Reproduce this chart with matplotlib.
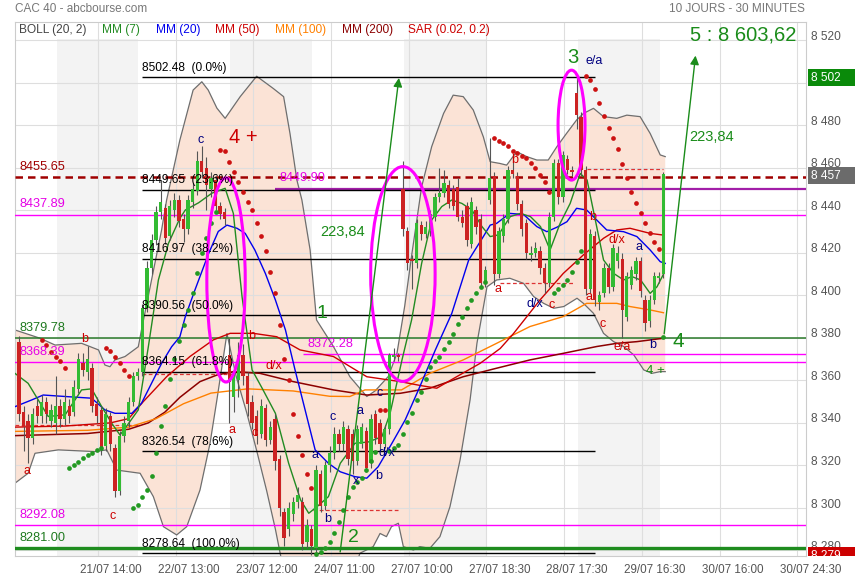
import numpy as np
import matplotlib.pyplot as plt
from matplotlib.patches import Ellipse, Rectangle
from matplotlib.transforms import blended_transform_factory

plt.rcParams['font.family'] = ['Liberation Sans', 'DejaVu Sans']

# bougies 30 min (index de barre 0..141)
opens = [8378, 8345, 8341, 8333, 8348, 8343, 8350, 8341, 8340, 8348,
         8342, 8348, 8345, 8356, 8368, 8364, 8366, 8349, 8346, 8329,
         8343, 8328, 8308, 8334, 8341, 8350, 8362, 8364, 8394, 8413,
         8426, 8439, 8441, 8428, 8440, 8445, 8436, 8431, 8444, 8449,
         8463, 8460, 8450, 8454, 8442, 8439, 8372, 8352, 8360, 8372,
         8362, 8350, 8343, 8335, 8347, 8332, 8342, 8323, 8298, 8290,
         8297, 8303, 8303, 8284, 8290, 8281, 8316, 8301, 8320, 8326,
         8335, 8330, 8337, 8335, 8322, 8330, 8336, 8321, 8344, 8340,
         8330, 8337, 8371, 8372, 8450, 8430, 8417, 8415, 8433, 8429,
         8430, 8437, 8446, 8448, 8452, 8450, 8451, 8437, 8442, 8424,
         8440, 8436, 8406, 8445, 8456, 8410, 8428, 8436, 8459, 8456,
         8443, 8434, 8419, 8420, 8421, 8413, 8406, 8437, 8462, 8446,
         8464, 8459, 8495, 8484, 8459, 8403, 8428, 8397, 8401, 8413,
         8404, 8416, 8417, 8390, 8405, 8410, 8416, 8398, 8388, 8398,
         8408, 8410]
closes = [8344, 8338, 8333, 8344, 8343, 8350, 8344, 8346, 8348, 8342,
          8350, 8343, 8357, 8370, 8365, 8370, 8348, 8343, 8328, 8344,
          8330, 8308, 8334, 8340, 8350, 8362, 8364, 8394, 8413, 8426,
          8439, 8444, 8427, 8442, 8445, 8435, 8431, 8445, 8450, 8463,
          8458, 8452, 8455, 8442, 8438, 8436, 8359, 8362, 8372, 8362,
          8349, 8340, 8334, 8348, 8332, 8338, 8322, 8300, 8286, 8300,
          8303, 8306, 8283, 8292, 8282, 8318, 8301, 8320, 8326, 8335,
          8330, 8338, 8323, 8322, 8337, 8338, 8319, 8342, 8333, 8330,
          8337, 8372, 8372, 8371, 8431, 8415, 8416, 8434, 8429, 8432,
          8438, 8446, 8448, 8453, 8443, 8442, 8437, 8434, 8426, 8444,
          8432, 8406, 8412, 8455, 8410, 8430, 8436, 8459, 8457, 8443,
          8431, 8420, 8420, 8422, 8413, 8406, 8437, 8462, 8446, 8466,
          8459, 8458, 8485, 8459, 8403, 8429, 8398, 8400, 8413, 8404,
          8422, 8420, 8393, 8409, 8412, 8416, 8402, 8387, 8398, 8409,
          8409, 8457]
highs = [8381, 8348, 8344, 8347, 8351, 8353, 8352, 8349, 8362, 8351,
         8356, 8351, 8360, 8373, 8373, 8376, 8368, 8352, 8348, 8347,
         8345, 8330, 8336, 8343, 8352, 8364, 8366, 8396, 8416, 8429,
         8442, 8454, 8443, 8445, 8448, 8447, 8438, 8447, 8453, 8468,
         8470, 8465, 8458, 8456, 8444, 8441, 8380, 8365, 8378, 8377,
         8364, 8353, 8346, 8351, 8349, 8341, 8344, 8325, 8300, 8303,
         8305, 8310, 8305, 8295, 8292, 8320, 8318, 8322, 8329, 8338,
         8337, 8341, 8339, 8337, 8339, 8340, 8338, 8344, 8346, 8342,
         8339, 8373, 8375, 8373, 8463, 8432, 8419, 8436, 8435, 8435,
         8440, 8448, 8460, 8459, 8454, 8452, 8455, 8440, 8444, 8446,
         8442, 8438, 8414, 8474, 8458, 8432, 8438, 8461, 8465, 8458,
         8445, 8436, 8423, 8425, 8423, 8415, 8439, 8464, 8464, 8468,
         8466, 8461, 8502, 8486, 8461, 8431, 8430, 8402, 8415, 8415,
         8424, 8423, 8420, 8411, 8414, 8418, 8418, 8400, 8400, 8411,
         8411, 8458]
lows = [8341, 8327, 8321, 8330, 8340, 8340, 8340, 8338, 8335, 8338,
        8339, 8340, 8343, 8354, 8362, 8360, 8345, 8340, 8325, 8327,
        8327, 8305, 8306, 8331, 8338, 8348, 8360, 8362, 8392, 8410,
        8424, 8436, 8424, 8426, 8437, 8432, 8425, 8429, 8441, 8447,
        8455, 8440, 8446, 8440, 8436, 8433, 8340, 8345, 8352, 8358,
        8343, 8337, 8330, 8333, 8329, 8330, 8318, 8296, 8282, 8287,
        8294, 8300, 8280, 8281, 8278, 8278, 8298, 8299, 8317, 8323,
        8327, 8327, 8320, 8316, 8320, 8328, 8317, 8319, 8330, 8327,
        8328, 8335, 8369, 8369, 8428, 8412, 8403, 8413, 8426, 8427,
        8428, 8435, 8444, 8446, 8441, 8440, 8435, 8432, 8423, 8422,
        8429, 8404, 8404, 8443, 8405, 8408, 8425, 8434, 8455, 8440,
        8428, 8417, 8416, 8418, 8410, 8401, 8404, 8435, 8443, 8444,
        8457, 8456, 8478, 8456, 8400, 8401, 8395, 8393, 8399, 8401,
        8402, 8413, 8380, 8388, 8403, 8407, 8399, 8383, 8385, 8396,
        8406, 8408]

# Bandes de Bollinger (20, 2)
boll_up_x = [-0.9, 4.6, 7.9, 13.7, 17.4, 18.8, 19.9, 21, 23.2, 26.1, 26.8, 31.2, 32.3, 35.2, 38.1,
             40, 41.4, 43.3, 45.1, 48.4, 52, 55.6, 57.9, 59.3, 60.8, 61.9, 63.7, 65.1, 68.8, 72.4,
             76.1, 77.9, 80.8, 82.7, 84.4, 86, 88.1, 90.3, 92.9, 95, 97.2, 99.4, 101.6, 103.1, 105.2,
             106.7, 108.9, 111.1, 113.3, 115.8, 117.7, 119.8, 122, 123.5, 125.7, 127.9, 130.8, 133,
             135.9, 138.1, 140.3, 141.4]
boll_up_y = [8383.7, 8379.8, 8376.6, 8377.4, 8374.3, 8367.2, 8366.4, 8369.6, 8371.2, 8375.8, 8383.7,
             8430.7, 8444.8, 8473, 8496.5, 8500.4, 8496.5, 8488, 8483.2, 8493.4, 8503, 8497.3, 8493.4,
             8476, 8454.2, 8444.8, 8421.3, 8388.4, 8375.9, 8361.7, 8352.4, 8355, 8361.8, 8372.7, 8395,
             8420, 8451, 8469.9, 8485.5, 8494.1, 8493.4, 8487.1, 8474.5, 8462.8, 8462, 8461.2, 8467.5,
             8465.2, 8463.6, 8463.6, 8469.9, 8476.1, 8482.4, 8485.5, 8487.9, 8484, 8483.2, 8484.7,
             8484, 8476.1, 8466, 8465.2]
boll_lo_x = [-0.9, 2, 3.5, 8.6, 16.6, 19.2, 21.4, 26.5, 29.4, 31.6, 34.5, 36.7, 39.6, 41.8, 43.3,
             45.5, 47.5, 49.8, 52, 54.2, 56.1, 57.3, 60, 66, 72, 74.6, 77.5, 79, 80.4, 81.5, 83, 84.1,
             86.3, 87.7, 89.9, 92.1, 94.3, 96.5, 98.7, 100.2, 102.4, 104.5, 107.4, 110.4, 112.6, 114.8,
             117, 119.2, 122.1, 123.5, 125.7, 127.9, 130.1, 132.3, 134.5, 136.7, 138.5, 140.3, 141.4]
boll_lo_y = [8311.6, 8316.3, 8325.7, 8327.3, 8326.5, 8327.3, 8317.8, 8316.3, 8305.3, 8291.2, 8287.3,
             8291.2, 8308.4, 8330.4, 8350.8, 8382, 8362, 8345, 8327, 8308, 8290, 8277, 8262, 8255,
             8262, 8278.7, 8281.8, 8288, 8286.5, 8291.2, 8292.8, 8281.8, 8280.2, 8281.8, 8281, 8286.5,
             8300.6, 8322.5, 8350.8, 8377.4, 8404, 8407.2, 8408, 8405.6, 8399.4, 8396.2, 8393.9,
             8394.7, 8398.6, 8396.2, 8391.5, 8382.1, 8378.2, 8375.9, 8372, 8364.9, 8363.3, 8364.1, 8364.1]

# moyennes mobiles
mm7_x = [-0.9, 2, 4.2, 6.4, 10.1, 13.7, 15.9, 18.1, 20.3, 22.1, 24, 26.1, 28.3, 30.5, 32.7, 35.2,
         36.4, 39.3, 42.2, 45.1, 46.9, 48.8, 51, 53.2, 56.1, 59, 61.6, 63.4, 65.2, 67.7, 70.3, 73.5,
         76.4, 79.4, 81.2, 83.8, 85.9, 88.1, 90.3, 92.5, 94.7, 96.9, 99.1, 101.3, 103.1, 104.9, 107.5,
         109.7, 111.9, 114.1, 116.2, 118.4, 120.6, 122.8, 124.3, 126.1, 127.9, 130.1, 132.3, 134.1,
         136, 138.1, 139.6, 141.1]
mm7_y = [8363.3, 8358.6, 8350.8, 8343, 8343.8, 8355.5, 8356, 8347.6, 8339.8, 8334.3, 8339.8, 8346.1,
         8375.8, 8407.2, 8424.4, 8436.2, 8440.1, 8443.5, 8448, 8450.3, 8438.5, 8399.4, 8364.9, 8356.3,
         8344.5, 8321, 8303.8, 8297.5, 8300.6, 8305.3, 8321, 8330.4, 8331, 8333.5, 8344.5, 8369.6,
         8388.4, 8415, 8435.4, 8441.7, 8444.8, 8443.2, 8440.1, 8432.3, 8427.6, 8428.4, 8437, 8438.5,
         8437, 8432.3, 8421.3, 8433.8, 8443.2, 8457.3, 8454.2, 8435.4, 8416.6, 8410.3, 8407.2, 8408.8,
         8407.2, 8400.9, 8404, 8410.3]
mm20_x = [-0.9, 2.8, 5.3, 10.1, 15.9, 18.8, 21, 24.7, 26.8, 29, 31.2, 33.4, 35.2, 36.4, 38.5, 41.5,
          43.6, 45.5, 47.7, 49.5, 51.6, 53.9, 56.1, 58.3, 60.4, 62.6, 64.8, 67.7, 70.3, 73.5, 76.1,
          78.6, 81.6, 84.5, 87.4, 91.1, 94.7, 98.4, 101.6, 103.1, 104.5, 107.4, 110.4, 113.3, 115.5,
          117.7, 119.9, 122, 124.2, 126.4, 128.6, 132.3, 135.2, 138.1, 140.3, 141.4]
mm20_y = [8347.6, 8350.8, 8353.1, 8352.4, 8351.6, 8346.1, 8344.5, 8344.5, 8349.2, 8358.6, 8368, 8375.8,
          8380.5, 8390, 8402.5, 8419.7, 8430, 8433, 8431.5, 8429.1, 8421.3, 8410.3, 8397.8, 8383.7,
          8364.9, 8346.1, 8327.3, 8321, 8317, 8314.7, 8314, 8319.4, 8330.4, 8341.4, 8355.5, 8374.3,
          8391.5, 8416.6, 8427.6, 8433, 8433.8, 8438.5, 8438, 8432.3, 8429.9, 8432, 8434.6, 8440.9,
          8440.1, 8435.4, 8430.7, 8429.9, 8427.6, 8421.3, 8415.8, 8415]
mm50_x = [-0.9, 10, 20, 24, 27.2, 32.3, 37.4, 42.5, 46.2, 51.3, 56.4, 61.5, 68.8, 76.1, 83.4, 88,
          91.4, 96, 100.9, 105.3, 108.2, 114, 119.1, 123.5, 127.9, 130.8, 133.7, 138.1, 141]
mm50_y = [8338, 8338.5, 8340, 8342, 8350, 8361.7, 8371.2, 8379, 8382.1, 8382.1, 8380.5, 8374.3, 8371.2,
          8361.7, 8359.4, 8357.5, 8356.3, 8362, 8368, 8375, 8382, 8397.8, 8410.3, 8419, 8426.8, 8430.7,
          8431.5, 8429.1, 8428.3]
mm100_x = [-0.9, 15, 24, 30, 36, 42, 50, 60, 68, 72.4, 75.7, 83.7, 89.9, 97.2, 104.5, 111.8, 119.1,
           124.2, 130.8, 133.7, 138.1, 141]
mm100_y = [8336, 8336.5, 8338, 8342, 8349, 8354, 8356, 8355, 8352.5, 8352.4, 8355.5, 8355.5, 8363.3,
           8369.6, 8377.4, 8385.3, 8390, 8396.2, 8396.2, 8394.7, 8393.1, 8391.8]
mm200_x = [-0.9, 15, 24, 28.3, 31.9, 35.2, 39.6, 43.3, 46.9, 52.7, 60, 68.8, 76.1, 83.4, 89.9, 97.2,
           104.5, 111.8, 119.1, 126.4, 130.8, 135.2, 141]
mm200_y = [8334, 8335, 8337, 8340, 8345, 8352, 8359.4, 8362.5, 8364.1, 8363.3, 8359.4, 8355.5, 8353.1,
           8353.9, 8356.3, 8361.7, 8365.7, 8369.6, 8372.7, 8375.9, 8377.4, 8378.2, 8379.8]

# SAR (0.02, 0.2)
sar_red_i = (list(range(5, 11)) + list(range(19, 25)) + list(range(44, 65)) + [79, 80]
             + list(range(104, 117)) + list(range(124, 141)))
sar_red_p = [8379, 8376.5, 8373.5, 8371, 8369, 8366,
             8375, 8374, 8371, 8368, 8365, 8362,
             8468.5, 8468, 8462.8, 8458, 8453.4, 8448.7, 8444, 8440, 8434, 8428, 8421, 8411, 8401,
             8386, 8370, 8360, 8344, 8334, 8325, 8316, 8309.5,
             8346, 8346,
             8473.8, 8472.7, 8471.5, 8470, 8468, 8466.7, 8465.6, 8464.4, 8462, 8459.7, 8456.5, 8453.4,
             8448.7,
             8503, 8501.2, 8496.8, 8490.5, 8484.3, 8478.8, 8473.8, 8468.6, 8461.6, 8455, 8448.7, 8443.2,
             8438.5, 8433.8, 8429.4, 8425.2, 8421.6]
sar_green_i = (list(range(11, 19)) + list(range(25, 44)) + list(range(65, 79)) + list(range(81, 103))
               + list(range(117, 124)) + [141])
sar_green_p = [8318.6, 8320.2, 8321.8, 8323.3, 8324.9, 8326, 8327.3, 8328,
               8300, 8301.5, 8305, 8308.5, 8315, 8325.7, 8338.5, 8348, 8360.7, 8370, 8378.7, 8386, 8393,
               8401, 8410.5, 8420, 8427, 8434, 8439,
               8278.5, 8279.5, 8281, 8284.2, 8288, 8293.5, 8299, 8305, 8310, 8312, 8314, 8318, 8322,
               8326.5,
               8327, 8328, 8329.6, 8335, 8340.6, 8344.8, 8350.8, 8354.7, 8360.5, 8366.4, 8369, 8371,
               8374.7, 8378.2, 8382, 8386.5, 8390, 8394, 8397.8, 8401, 8404, 8406.4,
               8401, 8403, 8405, 8407.2, 8411, 8415.8, 8421,
               8380.6]

# Fibonacci et niveaux
fib_levels = [8502.48, 8449.65, 8416.97, 8390.56, 8364.15, 8326.54, 8278.64]
fib_pcts = ['0.0%', '23.6%', '38.2%', '50.0%', '61.8%', '78.6%', '100.0%']
levels = [8455.65, 8437.89, 8379.78, 8368.39, 8292.08, 8281.00]
level_colors = ['#a00000', '#e600e6', '#1f7a1f', '#e600e6', '#e600e6', '#1f7a1f']

sessions = [(8.4, 26.1), (46.2, 64.1), (84.3, 102.5), (122.3, 140.3)]
xtick_labels = ['21/07 14:00', '22/07 13:00', '23/07 12:00', '24/07 11:00', '27/07 10:00',
                '27/07 18:30', '28/07 17:30', '29/07 16:30', '30/07 16:00', '30/07 24:30']

Y0, Y1 = 8277.4, 8528.5
X0, X1 = -0.875, 172.2

fig = plt.figure(figsize=(8.55, 5.8), dpi=100)
ax = fig.add_axes([15/855, 24/580, 791/855, 534/580])
ax.set_xlim(X0, X1)
ax.set_ylim(Y0, Y1)
ax.set_xticks([])
ax.set_yticks([])
for s in ax.spines.values():
    s.set_color('#cccccc')
    s.set_linewidth(0.8)

top_frac = (8520.4 - Y0) / (Y1 - Y0)
for a, b in sessions:
    ax.axvspan(a, b, ymin=0, ymax=top_frac, color='#f3f3f3', lw=0, zorder=0)

# Bollinger
ax.fill(boll_up_x + boll_lo_x[::-1], boll_up_y + boll_lo_y[::-1], color='#fbe3d6', lw=0, zorder=1)
ax.plot(boll_up_x, boll_up_y, color='#6e6e6e', lw=0.9, zorder=2)
ax.plot(boll_lo_x, boll_lo_y, color='#6e6e6e', lw=0.9, zorder=2)

# grille
for v in range(8280, 8521, 20):
    ax.axhline(v, color='#dedede', lw=0.8, zorder=1.5)
grid_x = [17.29 + 17.0 * k for k in range(len(xtick_labels))]
for gx in grid_x:
    ax.axvline(gx, color='#dedede', lw=0.8, zorder=1.5)
tr = blended_transform_factory(ax.transData, ax.transAxes)
for gx, lab in zip(grid_x, xtick_labels):
    ax.text(gx + 2.85, -0.027, lab, transform=tr, ha='center', va='center',
            fontsize=8.4, color='#555555', clip_on=False)

# niveaux horizontaux
for lv, col in zip(levels, level_colors):
    if lv == 8455.65:
        ax.axhline(lv, color=col, lw=1.8, ls=(0, (3, 2)), zorder=3)
    elif lv == 8281.00:
        ax.axhline(lv, color='#1e8c1e', lw=2.4, zorder=3)
    elif col == '#1f7a1f':
        ax.axhline(lv, color='#2a7a2a', lw=1.1, zorder=3)
    else:
        ax.axhline(lv, color='#ff00ff', lw=1.0, zorder=3)
    ax.text(0.1, lv + 2.0, f'{lv:.2f}', color=col, fontsize=9.2, va='bottom', ha='left', zorder=8)

ax.hlines(8449.90, 56, X1, color='#a21ea8', lw=1.6, zorder=3)
ax.text(57.1, 8449.90 + 2.4, '8449.90', color='#e600e6', fontsize=9.2, va='bottom', zorder=8)
ax.hlines(8372.28, 62.1, X1, color='#ff00ff', lw=1.0, zorder=3)
ax.text(63.2, 8372.28 + 2.0, '8372.28', color='#e600e6', fontsize=9.2, va='bottom', zorder=8)

for lv, pct in zip(fib_levels, fib_pcts):
    ax.hlines(lv, 26.9, 126, color='black', lw=1.0, zorder=3.2)
    ax.text(26.9, lv + 1.8, f'{lv:.2f}  ({pct})', color='black', fontsize=8.6,
            va='bottom', ha='left', zorder=8)

# petits niveaux pointillés rouges
for a, b, lv in [(-0.9, 26.1, 8339), (27, 46.8, 8363), (64.3, 83.4, 8299),
                 (105.2, 121.2, 8406), (124.3, 141, 8459.5)]:
    ax.hlines(lv, a, b, color='#dd3333', lw=0.9, ls=(0, (3, 2)), zorder=3)

# moyennes mobiles
ax.plot(mm200_x, mm200_y, color='#8b0000', lw=1.1, zorder=3.5)
ax.plot(mm100_x, mm100_y, color='#ff8000', lw=1.0, zorder=3.5)
ax.plot(mm50_x, mm50_y, color='#cc0000', lw=1.0, zorder=3.5)
ax.plot(mm20_x, mm20_y, color='#0000ee', lw=1.0, zorder=3.6)
ax.plot(mm7_x, mm7_y, color='#228b22', lw=1.0, zorder=3.7)

# bougies
o = np.array(opens, float)
c = np.array(closes, float)
x = np.arange(len(c))
ax.vlines(x, lows, highs, color='#555555', lw=0.8, zorder=4)
body = np.maximum(np.abs(c - o), 0.7)
cols = np.where(c >= o, '#33bb33', '#cc2222')
ax.bar(x, body, bottom=np.minimum(o, c), width=0.72, color=cols, lw=0, zorder=5)

# SAR
ax.plot(sar_red_i, sar_red_p, 'o', ms=3.4, color='#cc1111', mec='none', zorder=6)
ax.plot(sar_green_i, sar_green_p, 'o', ms=3.4, color='#229922', mec='none', zorder=6)

# ellipses
for cx, cy, w, h in [(45.3, 8407.2, 8.4, 96), (84.0, 8410, 14.1, 101), (120.9, 8480, 5.9, 51.7)]:
    ax.add_patch(Ellipse((cx, cy), w, h, fill=False, ec='#ff00ff', lw=2.2, zorder=7))

# flèches
for (xa, ya), (xb, yb) in [((70.2, 8278), (83.2, 8503.5)), ((141.1, 8380.6), (148.1, 8514))]:
    ax.annotate('', xy=(xb, yb), xytext=(xa, ya),
                arrowprops=dict(arrowstyle='-|>', color='#1a8c1a', lw=1.0, mutation_scale=13),
                zorder=7)

# textes
big = [('4 +', 49.0, 8474, '#cc0000', 14.5), ('3', 121.2, 8512, '#1a8c1a', 14.5),
       ('1', 66.2, 8391.6, '#1a8c1a', 14), ('2', 73.1, 8286.3, '#1a8c1a', 14),
       ('4', 144.3, 8378.2, '#1a8c1a', 15), ('223,84', 151.6, 8474.4, '#1a8c1a', 10.5),
       ('223,84', 70.7, 8429.7, '#1a8c1a', 10.5), ('5 : 8 603,62', 158.4, 8522.4, '#1a8c1a', 14.5),
       ('4 +', 139.2, 8364.5, '#1a8c1a', 9.5), ('e/a', 125.8, 8510, '#000080', 9)]
for t, tx, ty, col, fs in big:
    ax.text(tx, ty, t, color=col, fontsize=fs, ha='center', va='center', zorder=8)

small = [('b', 14.4, 8379.4, '#cc0000'), ('a', 1.75, 8317.5, '#cc0000'), ('c', 20.5, 8296.2, '#cc0000'),
         ('c', 39.8, 8473, '#000080'), ('a', 46.6, 8336.6, '#cc0000'), ('c', 51.6, 8335.2, '#cc0000'),
         ('b', 50.8, 8380.8, '#cc0000'), ('d/x', 55.8, 8366.7, '#cc0000'), ('a', 64.8, 8324.9, '#000080'),
         ('b', 67.5, 8294.8, '#000080'), ('c', 68.6, 8342.6, '#000080'), ('a', 74.6, 8345.6, '#000080'),
         ('c', 78.8, 8354, '#000080'), ('x', 73.7, 8312.8, '#000080'), ('d/x', 80.5, 8326, '#000080'),
         ('b', 78.8, 8315, '#000080'), ('a', 104.9, 8402.8, '#cc0000'), ('d/x', 112.9, 8395.9, '#000080'),
         ('c', 116.6, 8395.4, '#cc0000'), ('b', 108.5, 8463.6, '#cc0000'), ('a', 124.7, 8399.2, '#cc0000'),
         ('b', 125.6, 8436.9, '#cc0000'), ('d/x', 130.8, 8426, '#cc0000'), ('a', 135.7, 8422.7, '#000080'),
         ('c', 127.7, 8386.5, '#cc0000'), ('e/a', 131.9, 8375.8, '#cc0000'), ('b', 138.7, 8376.6, '#000080')]
for t, tx, ty, col in small:
    ax.text(tx, ty, t, color=col, fontsize=9, ha='center', va='center', zorder=8)

# légende des indicateurs
legend = [('BOLL (20, 2)', 19.3, '#444444'), ('MM (7)', 102.3, '#228b22'), ('MM (20)', 156, '#0000ee'),
          ('MM (50)', 215, '#cc0000'), ('MM (100)', 275, '#ff8000'), ('MM (200)', 341.7, '#8b0000'),
          ('SAR (0.02, 0.2)', 408.3, '#cc0000')]
for t, px, col in legend:
    ax.text((px - 15) / 791, (556 - 30) / 534, t, transform=ax.transAxes, color=col,
            fontsize=8.6, ha='left', va='center', zorder=9)

fig.text(15/855, 1 - 9/580, 'CAC 40 - abcbourse.com', fontsize=8.5, color='#777777', va='center')
fig.text(805/855, 1 - 9/580, '10 JOURS - 30 MINUTES', fontsize=8.5, color='#777777', va='center', ha='right')

# échelle de droite
axr = fig.add_axes([806/855, 24/580, 49/855, 534/580])
axr.set_xlim(0, 1)
axr.set_ylim(Y0, Y1)
axr.axis('off')
for v in range(8280, 8521, 20):
    axr.text(0.1, v + 1.6, f'{v:,}'.replace(',', ' '), fontsize=8.6, color='#555555',
             va='center', ha='left', clip_on=True)
for val, lab, col, y0, y1 in [(8502.4, '8 502', '#0a8a0a', 8498.4, 8506.4),
                              (8456.3, '8 457', '#6b6b6b', 8452.3, 8460.3),
                              (8277.6, '8 279', '#cc0000', 8273.0, 8281.4)]:
    axr.add_patch(Rectangle((0.04, y0), 0.96, y1 - y0, color=col, lw=0, zorder=3))
    axr.text(0.1, val, lab, fontsize=8.6, color='white', va='center', ha='left', zorder=4, clip_on=True)

fig.savefig('out.png', dpi=100)
